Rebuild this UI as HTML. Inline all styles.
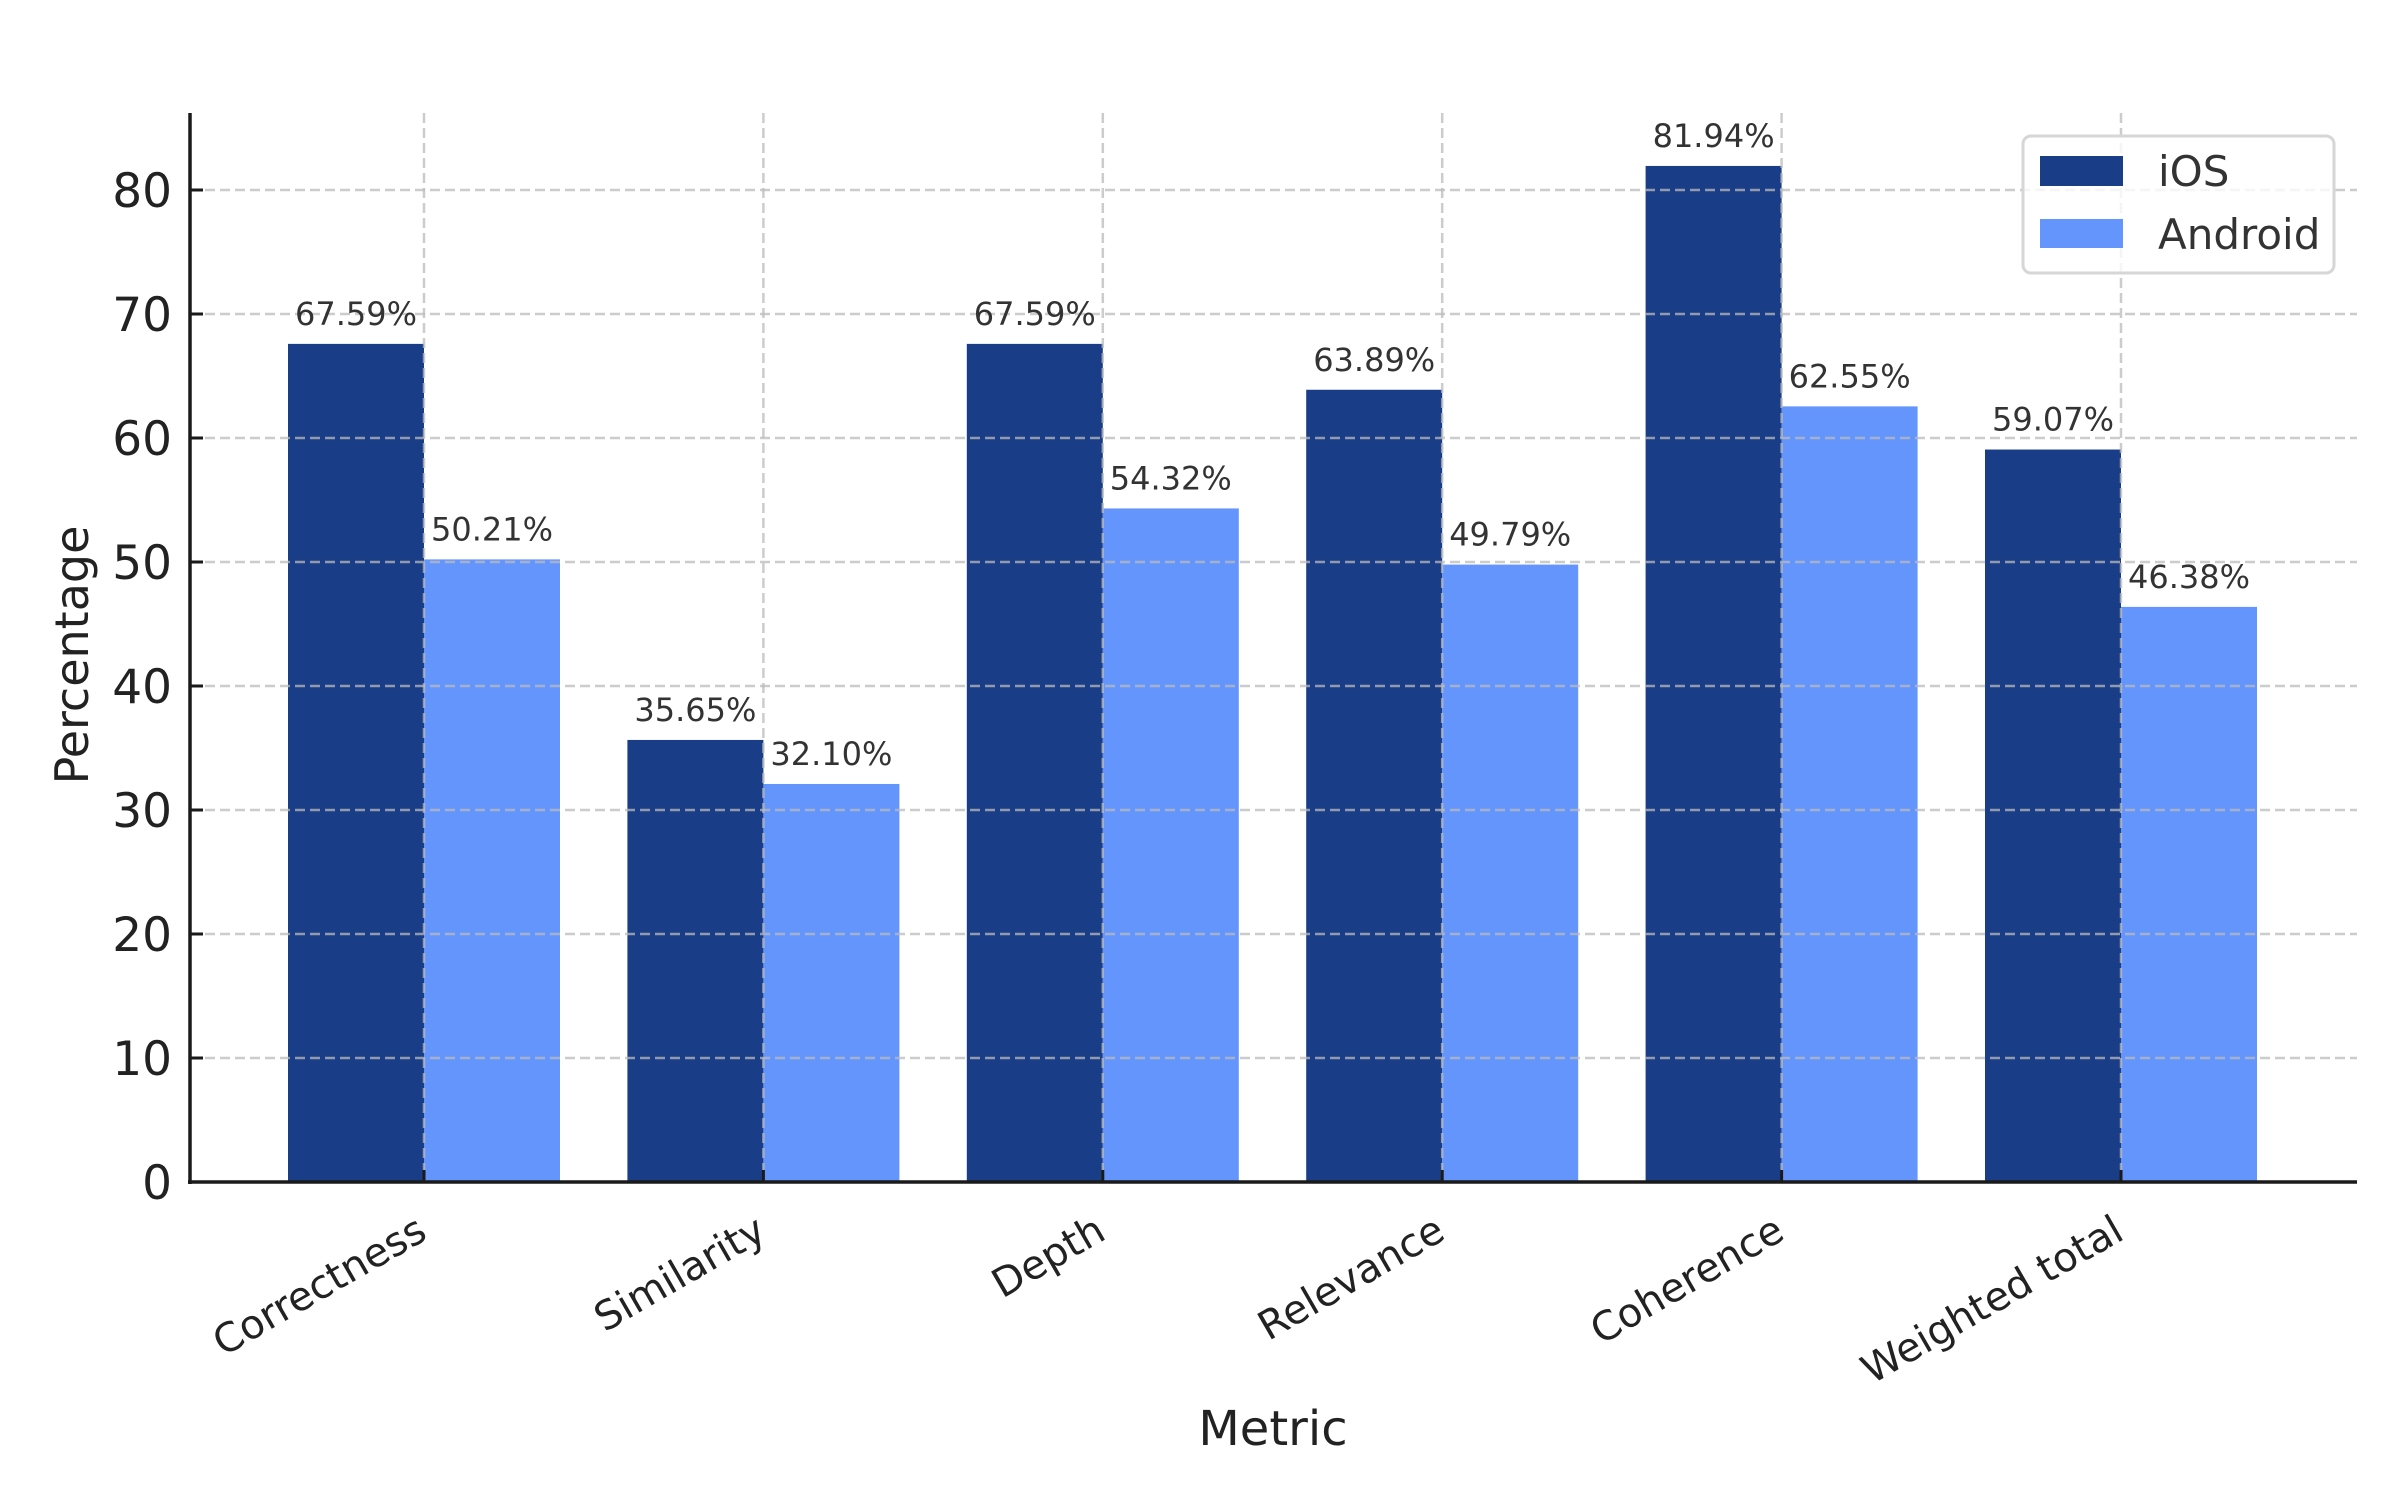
<!DOCTYPE html>
<html><head><meta charset="utf-8"><style>
html,body{margin:0;padding:0;background:#fff;}
svg{display:block;font-family:"DejaVu Sans","Liberation Sans",sans-serif;}
</style></head><body>
<svg id="chart" width="2400" height="1500" viewBox="0 0 2400 1500" xmlns="http://www.w3.org/2000/svg">
<rect width="2400" height="1500" fill="#fff"/>
<g id="bars"></g>
<g id="grid"></g>
<g id="labels"></g>
<g id="axes"></g>
<text x="0" y="0" transform="translate(88,655) rotate(-90)" text-anchor="middle" font-size="46" fill="#222">Percentage</text>
<text x="1273" y="1445" text-anchor="middle" font-size="48" fill="#222">Metric</text>
<g>
<rect x="2023" y="136" width="311" height="137" rx="8" fill="#fff" fill-opacity="0.8" stroke="#d6d6d6" stroke-width="3"/>
<rect x="2040" y="156" width="83" height="30" fill="#1a3d87"/>
<text x="2158" y="186" font-size="42" fill="#333">iOS</text>
<rect x="2040" y="219" width="83" height="29" fill="#6495fd"/>
<text x="2158" y="249" font-size="42" fill="#333">Android</text>
</g>
</svg>
<script>
const categories = ["Correctness","Similarity","Depth","Relevance","Coherence","Weighted total"];
const iosValues = [67.59,35.65,67.59,63.89,81.94,59.07];
const androidValues = [50.21,32.10,54.32,49.79,62.55,46.38];
const yTicks = [0,10,20,30,40,50,60,70,80];

const NS = "http://www.w3.org/2000/svg";
const plotLeft = 190, plotRight = 2357, plotTop = 113, y0 = 1182, unit = 12.4;
const firstX = 424, step = 339.4, barW = 136;
function yScale(v){ return y0 - v*unit; }
function xScale(i){ return firstX + i*step; }
function mk(tag, attrs, parent){
  const e = document.createElementNS(NS, tag);
  for (const k in attrs) e.setAttribute(k, attrs[k]);
  parent.appendChild(e);
  return e;
}
const barsG = document.getElementById('bars');
const gridG = document.getElementById('grid');
const labelsG = document.getElementById('labels');
const axesG = document.getElementById('axes');

categories.forEach((c, i) => {
  const cx = xScale(i);
  const r1 = mk('rect', {x: cx - barW, y: yScale(iosValues[i]), width: barW, height: y0 - yScale(iosValues[i]), fill: '#1a3d87'}, barsG);
  
  
  const r2 = mk('rect', {x: cx, y: yScale(androidValues[i]), width: barW, height: y0 - yScale(androidValues[i]), fill: '#6495fd'}, barsG);
  
  
  const t1 = mk('text', {x: cx - barW/2, y: yScale(iosValues[i]) - 19, 'text-anchor': 'middle', 'font-size': 32, fill: '#333'}, labelsG);
  t1.textContent = iosValues[i].toFixed(2) + '%';
  
  
  const t2 = mk('text', {x: cx + barW/2, y: yScale(androidValues[i]) - 19, 'text-anchor': 'middle', 'font-size': 32, fill: '#333'}, labelsG);
  t2.textContent = androidValues[i].toFixed(2) + '%';
  
  
  const g = mk('line', {x1: cx, x2: cx, y1: plotTop, y2: y0, stroke: '#bbb', 'stroke-opacity': 0.75, 'stroke-width': 2.5, 'stroke-dasharray': '10,5'}, gridG);
  
  
  const tk = mk('line', {x1: cx, x2: cx, y1: y0, y2: y0 - 12, stroke: '#1a1a1a', 'stroke-width': 3}, axesG);
  
  
  const lb = mk('text', {x: 0, y: 0, transform: 'translate(' + (cx + 5) + ',1238) rotate(-30)', 'text-anchor': 'end', 'font-size': 40, fill: '#222'}, axesG);
  lb.textContent = c;
  
  
});

yTicks.forEach(v => {
  const y = yScale(v);
  if (v > 0) {
    const g = mk('line', {x1: plotLeft, x2: plotRight, y1: y, y2: y, stroke: '#bbb', 'stroke-opacity': 0.75, 'stroke-width': 2.5, 'stroke-dasharray': '10,5'}, gridG);
    
    
  }
  const tk = mk('line', {x1: plotLeft, x2: plotLeft + 13, y1: y, y2: y, stroke: '#1a1a1a', 'stroke-width': 3}, axesG);
  
  
  const t = mk('text', {x: 172, y: y + 17, 'text-anchor': 'end', 'font-size': 47, fill: '#222'}, axesG);
  t.textContent = v;
  
  
});

const ya = mk('line', {x1: plotLeft, x2: plotLeft, y1: plotTop, y2: y0 + 2, stroke: '#1a1a1a', 'stroke-width': 3.5}, axesG);


const xa = mk('line', {x1: plotLeft - 2, x2: plotRight, y1: y0, y2: y0, stroke: '#1a1a1a', 'stroke-width': 3.5}, axesG);


</script>
</body></html>
